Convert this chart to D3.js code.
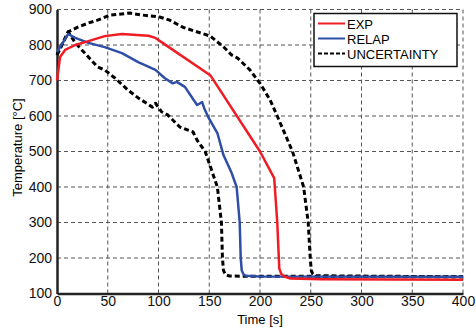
<!DOCTYPE html>
<html>
<head>
<meta charset="utf-8">
<script src="https://cdn.jsdelivr.net/npm/d3@7"></script>
<style>
  body { margin: 0; background: #fff; }
  text { font-family: "Liberation Sans", Arial, sans-serif; }
</style>
</head>
<body>
<div id="chart"></div>
<script>
// data (time in s, temperature in degC)
var expTime = [0, 3, 8, 18, 31, 47, 64, 90, 97, 104, 151, 200, 214, 217, 219, 221, 224, 230, 260, 400];
var expTemp = [700, 766, 786, 800, 811, 825, 831, 826, 820, 806, 715, 500, 425, 300, 170, 155, 148, 142, 140, 139];

var relapTime = [0, 11, 18, 31, 47, 64, 80, 97, 106, 114, 118, 126, 138, 143, 145, 149, 158, 164, 172, 177, 180, 181, 182, 184, 186, 200, 400];
var relapTemp = [780, 831, 820, 806, 794, 777, 752, 730, 707, 692, 696, 682, 631, 639, 622, 597, 552, 490, 440, 400, 300, 200, 165, 153, 150, 148, 147];

var upperTime = [0, 11, 21, 31, 40, 52, 72, 82, 101, 111, 124, 151, 164, 172, 178, 190, 200, 210, 217, 232, 243, 247.5, 249.5, 250.5, 252, 256, 400];
var upperTemp = [772, 837, 851, 862, 870, 884, 890, 885, 879, 870, 850, 825, 795, 772, 763, 730, 692, 645, 600, 500, 400, 300, 200, 165, 155, 150, 147];

var lowerTime = [0, 11, 18, 31, 40, 47, 57, 70, 80, 94, 97, 103, 109, 121, 134, 138, 146, 158, 162, 163, 164, 166, 170, 400];
var lowerTemp = [772, 837, 806, 766, 738, 730, 707, 673, 651, 625, 636, 612, 603, 569, 555, 532, 500, 400, 300, 200, 165, 153, 149, 147];

var xTicks = [0, 50, 100, 150, 200, 250, 300, 350, 400];
var yTicks = [100, 200, 300, 400, 500, 600, 700, 800, 900];

var legendNames = ["EXP", "RELAP", "UNCERTAINTY"];

// set the dimensions and margins of the graph
var margin = {top: 9.5, right: 13, bottom: 37.5, left: 57},
  width = 476 - margin.left - margin.right,
  height = 331 - margin.top - margin.bottom;

var svg = d3.select("#chart")
.append("svg")
  .attr("width", 476)
  .attr("height", 331)
.append("g")
  .attr("transform", "translate(" + margin.left + "," + margin.top + ")");

var x = d3.scaleLinear().domain([0, 400]).range([0, width]);
var y = d3.scaleLinear().domain([100, 900]).range([height, 0]);

// dashed grid
svg.append("g")
  .selectAll("line")
  .data(xTicks.slice(1))
  .enter().append("line")
    .attr("x1", function(d) { return x(d) })
    .attr("x2", function(d) { return x(d) })
    .attr("y1", 0)
    .attr("y2", height)
    .style("stroke", "#555")
    .style("stroke-width", 1)
    .style("stroke-dasharray", "4,3");

svg.append("g")
  .selectAll("line")
  .data(yTicks.slice(1))
  .enter().append("line")
    .attr("x1", 0)
    .attr("x2", width)
    .attr("y1", function(d) { return y(d) })
    .attr("y2", function(d) { return y(d) })
    .style("stroke", "#555")
    .style("stroke-width", 1)
    .style("stroke-dasharray", "4,3");

// axes
var xAxis = svg.append("g")
  .attr("transform", "translate(0," + height + ")")
  .call(d3.axisBottom(x).tickValues(xTicks).tickSize(0).tickPadding(3));
var yAxis = svg.append("g")
  .call(d3.axisLeft(y).tickValues(yTicks).tickSize(0).tickPadding(5));

[xAxis, yAxis].forEach(function(a) {
  a.select(".domain").style("stroke", "#222").style("stroke-width", 2.5);
  a.selectAll("text")
    .style("font-family", "'Liberation Sans', Arial, sans-serif")
    .style("font-size", "14px")
    .style("fill", "#111");
});

// lines
var line = d3.line()
  .x(function(d) { return x(d[0]) })
  .y(function(d) { return y(d[1]) });

function pairs(t, v) { return t.map(function(d, i) { return [d, v[i]] }) }

var series = [
  {data: pairs(lowerTime, lowerTemp), color: "#000", w: 3, dash: "5,3"},
  {data: pairs(upperTime, upperTemp), color: "#000", w: 3, dash: "5,3"},
  {data: pairs(relapTime, relapTemp), color: "#2f4fa6", w: 2.5, dash: null},
  {data: pairs(expTime, expTemp), color: "#f01c24", w: 2.5, dash: null}
];

series.forEach(function(s) {
  svg.append("path")
    .datum(s.data)
    .attr("d", line)
    .style("fill", "none")
    .style("stroke", s.color)
    .style("stroke-width", s.w)
    .style("stroke-linejoin", "round")
    .style("stroke-dasharray", s.dash);
});

// axis titles
svg.append("text")
  .attr("x", 203)
  .attr("y", height + 30)
  .attr("text-anchor", "middle")
  .style("font-size", "13px")
  .text("Time [s]");

svg.append("text")
  .attr("transform", "rotate(-90)")
  .attr("x", -height / 2 + 4)
  .attr("y", -35)
  .attr("text-anchor", "middle")
  .style("font-size", "13px")
  .text("Temperature [\u00B0C]");

// legend
var legend = svg.append("g").attr("transform", "translate(257,4)");
legend.append("rect")
  .attr("width", 143)
  .attr("height", 53)
  .style("fill", "#fff")
  .style("stroke", "#111")
  .style("stroke-width", 1.5);

var legendStyle = [
  {color: "#f01c24", dash: null},
  {color: "#2f4fa6", dash: null},
  {color: "#000", dash: "4,2"}
];
legendNames.forEach(function(name, i) {
  var ly = 10 + i * 15;
  legend.append("line")
    .attr("x1", 4).attr("x2", 31)
    .attr("y1", ly).attr("y2", ly)
    .style("stroke", legendStyle[i].color)
    .style("stroke-width", 2)
    .style("stroke-dasharray", legendStyle[i].dash);
  legend.append("text")
    .attr("x", 33)
    .attr("y", ly + 5)
    .style("font-size", "13px")
    .text(name);
});
</script>
</body>
</html>
